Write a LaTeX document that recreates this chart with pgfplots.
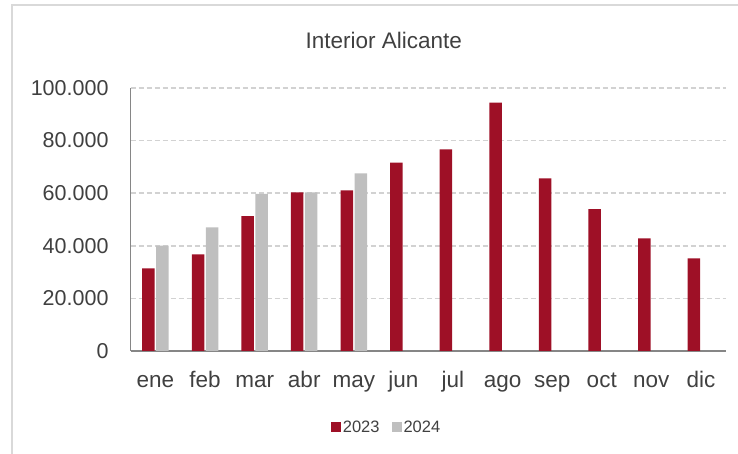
\documentclass[border=0pt]{standalone}
\usepackage{fontspec}
\setmainfont{Liberation Sans}
\usepackage{pgfplots}
\pgfplotsset{compat=1.18}
\definecolor{barred}{RGB}{158,16,38}
\definecolor{bargray}{RGB}{191,191,191}
\definecolor{gridgray}{RGB}{210,210,210}
\definecolor{framegray}{RGB}{217,217,217}
\definecolor{axisgray}{RGB}{134,134,134}
\definecolor{txt}{RGB}{64,64,64}
\begin{document}
\begin{tikzpicture}
\path[use as bounding box] (-130.7pt,-103pt) rectangle (607.3pt,351pt);
\begin{axis}[
  at={(0pt,0pt)}, anchor=south west,
  scale only axis, width=595pt, height=263pt,
  ybar=1.5pt, bar width=12.5pt,
  xmin=-0.5, xmax=11.5, ymin=0, ymax=100000,
  xtick=data,
  xticklabels={ene,feb,mar,abr,may,jun,jul,ago,sep,oct,nov,dic},
  ytick={0,20000,40000,60000,80000,100000},
  scaled y ticks=false,
  /pgf/number format/.cd, fixed, 1000 sep={.}, assume math mode=true,
  /pgfplots/.cd,
  major tick length=0pt,
  axis x line*=bottom, axis y line*=left,
  x axis line style={axisgray, line width=1.5pt, -},
  y axis line style={axisgray, line width=1pt, -},
  ymajorgrids, grid style={gridgray, line width=1.5pt, dash pattern=on 5pt off 3pt},
  xticklabel style={font=\fontsize{22.5}{26}\selectfont, text=txt, anchor=base, inner sep=0pt, yshift=-37pt},
  yticklabel style={font=\fontsize{21.5}{26}\selectfont, text=txt, anchor=east, inner sep=0pt, xshift=-22pt},
  legend style={at={(0.43,-0.289)}, anchor=center, draw=none, fill=none,
    legend columns=2, font=\fontsize{16.5}{20}\selectfont\color{txt},
    /tikz/every even column/.append style={column sep=10pt}, inner sep=0pt},
  legend image code/.code={\fill[#1] (0pt,-5pt) rectangle (10pt,5pt);},
]
\addplot[fill=barred, draw=none] coordinates {
 (0,31400) (1,36700) (2,51300) (3,60300) (4,61100) (5,71600)
 (6,76700) (7,94400) (8,65600) (9,53900) (10,42800) (11,35200)};
\addplot[fill=bargray, draw=none] coordinates {
 (0,40100) (1,47000) (2,59700) (3,60300) (4,67500)};
\legend{2023,2024}
\end{axis}
\draw[framegray, line width=1.2pt] (-118.7pt,-103pt) -- (-118.7pt,346pt) -- (607.3pt,346pt);
\node[anchor=base, inner sep=0pt, text=txt, font=\fontsize{22.5}{27}\selectfont] at (253pt,302.7pt) {Interior Alicante};
\end{tikzpicture}
\end{document}
